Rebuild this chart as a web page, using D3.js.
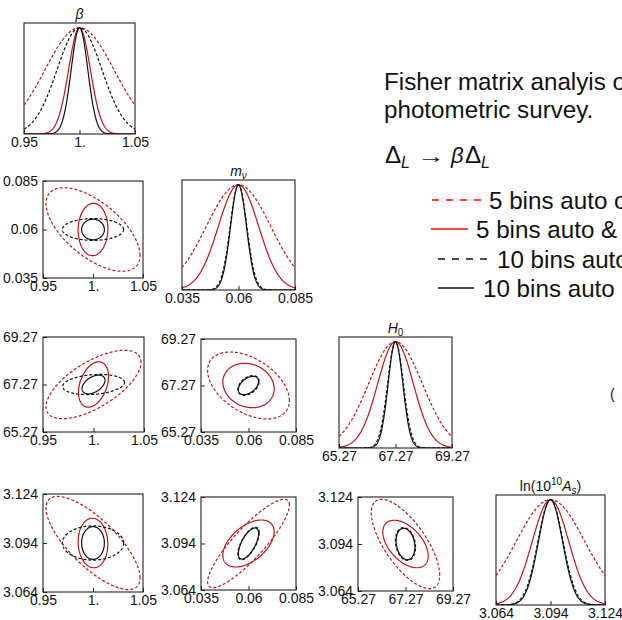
<!DOCTYPE html>
<html><head><meta charset="utf-8">
<script src="https://cdn.jsdelivr.net/npm/d3@7"></script>
<style>
body{margin:0;background:#fff}
svg{display:block}
text{font-family:"Liberation Sans",Arial,Helvetica,sans-serif;fill:#111}
</style>
</head><body>
<svg id="chart" width="622" height="620"></svg>
<script>
// ---- parameters of the forecast ----
const paramNames = ["beta", "mnu", "H0", "As"];
const fiducial = [1.0, 0.06, 67.27, 3.094];
const halfRange = [0.05, 0.025, 2.0, 0.03];
const tickValues = [[0.95, 1.0, 1.05], [0.035, 0.06, 0.085], [65.27, 67.27, 69.27], [3.064, 3.094, 3.124]];
const tickLabels = [["0.95", "1.", "1.05"], ["0.035", "0.06", "0.085"], ["65.27", "67.27", "69.27"], ["3.064", "3.094", "3.124"]];

// survey configurations
const caseLabels = ["5 bins auto only", "5 bins auto & cross", "10 bins auto only", "10 bins auto & cross"];

// marginalised 1-sigma errors, in paramNames order
const sigma5Auto   = [0.0310, 0.0142, 0.95, 0.0188];
const sigma5Cross  = [0.0098, 0.0089, 0.63, 0.0100];
const sigma10Auto  = [0.0202, 0.0037, 0.28, 0.0069];
const sigma10Cross = [0.0075, 0.0035, 0.26, 0.0066];

// correlation coefficients for each parameter pair [x, y]
const pairs = [[0, 1], [0, 2], [1, 2], [0, 3], [1, 3], [2, 3]];
const rho5Auto   = [-0.62, 0.65, -0.45, -0.75, 0.87, -0.70];
const rho5Cross  = [0.03, 0.35, -0.15, -0.05, 0.50, -0.50];
const rho10Auto  = [0.00, 0.20, 0.40, 0.00, 0.65, -0.20];
const rho10Cross = [0.00, 0.45, 0.45, 0.00, 0.65, -0.20];

const sigmas = [sigma5Auto, sigma5Cross, sigma10Auto, sigma10Cross];
const rhos = [rho5Auto, rho5Cross, rho10Auto, rho10Cross];

// ---- styling ----
const panelRed = "#c41414";
const caseStyle = [
  {color: panelRed, dash: "3,2"},
  {color: panelRed, dash: null},
  {color: "#111", dash: "3,2"},
  {color: "#111", dash: null}
];
const K = Math.sqrt(2.30); // 68% joint confidence contour

// panel frames: [left, top, right, bottom], keyed "row,col"
const frames = {
  "0,0": [24, 23, 135, 134],
  "1,0": [43, 181, 143, 278], "1,1": [182, 180, 295, 290],
  "2,0": [43, 337, 144, 432], "2,1": [201, 339, 296, 432], "2,2": [339, 337, 452, 448],
  "3,0": [43, 494, 143, 592], "3,1": [201, 497, 296, 590], "3,2": [358, 497, 453, 591], "3,3": [496, 495, 605, 605]
};

const svg = d3.select("#chart");
const defs = svg.append("defs");
const tickFont = 14;

function xScaleFor(p, f) {
  return d3.scaleLinear().domain([fiducial[p] - halfRange[p], fiducial[p] + halfRange[p]]).range([f[0], f[2]]);
}
function yScaleFor(p, f) {
  return d3.scaleLinear().domain([fiducial[p] - halfRange[p], fiducial[p] + halfRange[p]]).range([f[3], f[1]]);
}

function drawFrame(g, f, id) {
  defs.append("clipPath").attr("id", id).append("rect")
    .attr("x", f[0]).attr("y", f[1]).attr("width", f[2] - f[0]).attr("height", f[3] - f[1]);
  g.append("rect").attr("x", f[0]).attr("y", f[1]).attr("width", f[2] - f[0]).attr("height", f[3] - f[1])
    .attr("fill", "none").attr("stroke", "#222").attr("stroke-width", 1.1);
}

function styleAxis(ax) {
  ax.select(".domain").remove();
  ax.selectAll("line").attr("stroke", "#222");
  ax.selectAll("text").attr("font-size", tickFont).attr("font-family", "Liberation Sans, Arial, sans-serif").attr("fill", "#111");
}
function bottomAxis(g, p, f, x) {
  const ax = g.append("g").attr("transform", `translate(0,${f[3]})`)
    .call(d3.axisBottom(x).tickValues(tickValues[p]).tickFormat((d, i) => tickLabels[p][i]).tickSizeInner(-4).tickSizeOuter(0).tickPadding(3));
  styleAxis(ax);
}
function leftAxis(g, p, f, y) {
  const ax = g.append("g").attr("transform", `translate(${f[0]},0)`)
    .call(d3.axisLeft(y).tickValues(tickValues[p]).tickFormat((d, i) => tickLabels[p][i]).tickSizeInner(-4).tickSizeOuter(0).tickPadding(5));
  styleAxis(ax);
}

function styled(path, c) {
  path.attr("fill", "none").attr("stroke", caseStyle[c].color).attr("stroke-width", 1.2);
  if (caseStyle[c].dash) path.attr("stroke-dasharray", caseStyle[c].dash);
  return path;
}

// ---- diagonal: 1D marginalised likelihoods ----
for (let p = 0; p < 4; p++) {
  const f = frames[`${p},${p}`];
  const g = svg.append("g");
  const x = xScaleFor(p, f);
  const y = d3.scaleLinear().domain([0, 1.045]).range([f[3], f[1]]);
  const id = `clip-d${p}`;
  drawFrame(g, f, id);
  const xs = d3.range(0, 241).map(i => x.domain()[0] + (x.domain()[1] - x.domain()[0]) * i / 240);
  const line = d3.line().x(d => x(d[0])).y(d => y(d[1]));
  const body = g.append("g").attr("clip-path", `url(#${id})`);
  for (let c = 0; c < 4; c++) {
    const s = sigmas[c][p];
    const pts = xs.map(v => [v, Math.exp(-0.5 * Math.pow((v - fiducial[p]) / s, 2))]);
    styled(body.append("path").attr("d", line(pts)), c);
  }
  bottomAxis(g, p, f, x);
}

// ---- off-diagonal: joint confidence ellipses ----
pairs.forEach((pr, k) => {
  const [px, py] = pr;
  const f = frames[`${py},${px}`];
  const g = svg.append("g");
  const x = xScaleFor(px, f);
  const y = yScaleFor(py, f);
  const id = `clip-${px}-${py}`;
  drawFrame(g, f, id);
  const line = d3.line().x(d => x(d[0])).y(d => y(d[1])).curve(d3.curveLinearClosed);
  const body = g.append("g").attr("clip-path", `url(#${id})`);
  const ts = d3.range(0, 360).map(i => 2 * Math.PI * i / 360);
  for (let c = 0; c < 4; c++) {
    const sx = sigmas[c][px], sy = sigmas[c][py], r = rhos[c][k];
    const pts = ts.map(t => [
      fiducial[px] + K * sx * Math.cos(t),
      fiducial[py] + K * sy * (r * Math.cos(t) + Math.sqrt(1 - r * r) * Math.sin(t))
    ]);
    styled(body.append("path").attr("d", line(pts)), c);
  }
  bottomAxis(g, px, f, x);
  leftAxis(g, py, f, y);
});

// ---- parameter titles above the diagonal ----
function title(cx, baseline) {
  return svg.append("text").attr("x", cx).attr("y", baseline).attr("text-anchor", "middle").attr("font-size", 14);
}
const fb = frames["0,0"], fm = frames["1,1"], fh = frames["2,2"], fa = frames["3,3"];
title((fb[0] + fb[2]) / 2, fb[1] - 4).append("tspan").attr("font-style", "italic").text("β");
{
  const t = title((fm[0] + fm[2]) / 2, fm[1] - 4);
  t.append("tspan").attr("font-style", "italic").text("m");
  t.append("tspan").attr("font-style", "italic").attr("font-size", 10).attr("dy", 3).text("ν");
}
{
  const t = title((fh[0] + fh[2]) / 2, fh[1] - 4);
  t.append("tspan").attr("font-style", "italic").text("H");
  t.append("tspan").attr("font-size", 10).attr("dy", 3).text("0");
}
{
  const t = title((fa[0] + fa[2]) / 2, fa[1] - 4);
  t.append("tspan").text("ln(10");
  t.append("tspan").attr("font-size", 10).attr("dy", -6).text("10");
  t.append("tspan").attr("font-style", "italic").attr("dy", 6).text("A");
  t.append("tspan").attr("font-style", "italic").attr("font-size", 10).attr("dy", 3).text("s");
  t.append("tspan").attr("dy", -3).text(")");
}

// ---- description and legend ----
const bigFont = 24.2;
svg.append("text").attr("x", 384).attr("y", 90).attr("font-size", bigFont).text("Fisher matrix analyis of a Euclid-like");
svg.append("text").attr("x", 384).attr("y", 118).attr("font-size", bigFont).text("photometric survey.");
{
  const base = 163;
  const put = (x, dy, txt, opts) => {
    const t = svg.append("text").attr("x", x).attr("y", base + dy).attr("font-size", opts.size || bigFont).text(txt);
    if (opts.italic) t.attr("font-style", "italic");
    if (opts.fill) t.attr("fill", opts.fill);
    if (opts.family) t.attr("font-family", opts.family);
    if (opts.len) t.attr("textLength", opts.len).attr("lengthAdjust", "spacingAndGlyphs");
    return t;
  };
  put(385, 0, "Δ", {});
  put(401, 5, "L", {italic: true, size: 16});
  put(417, 0, "→", {fill: "#555", family: "DejaVu Sans, sans-serif", len: 28, size: 20});
  put(451, 0, "β", {italic: true, fill: "#555", family: "DejaVu Serif, serif", size: 22});
  put(465, 0, "Δ", {});
  put(481, 5, "L", {italic: true, size: 16});
}
const legendRows = [
  {x1: 432, x2: 482, y: 200, tx: 489, color: "#ff0000", dash: "7,7"},
  {x1: 431, x2: 468, y: 229, tx: 476, color: "#ff0000", dash: null},
  {x1: 438, x2: 488, y: 259, tx: 497, color: "#111", dash: "7,7"},
  {x1: 438, x2: 474, y: 288, tx: 483, color: "#111", dash: null}
];
legendRows.forEach((r, i) => {
  const l = svg.append("line").attr("x1", r.x1).attr("x2", r.x2).attr("y1", r.y).attr("y2", r.y)
    .attr("stroke", r.color).attr("stroke-width", 1.4);
  if (r.dash) l.attr("stroke-dasharray", r.dash);
  svg.append("text").attr("x", r.tx).attr("y", r.y + 8.5).attr("font-size", bigFont).text(caseLabels[i]);
});
svg.append("text").attr("x", 610).attr("y", 399).attr("font-size", 14).attr("fill", "#bbb").text("(");
</script>
</body></html>
